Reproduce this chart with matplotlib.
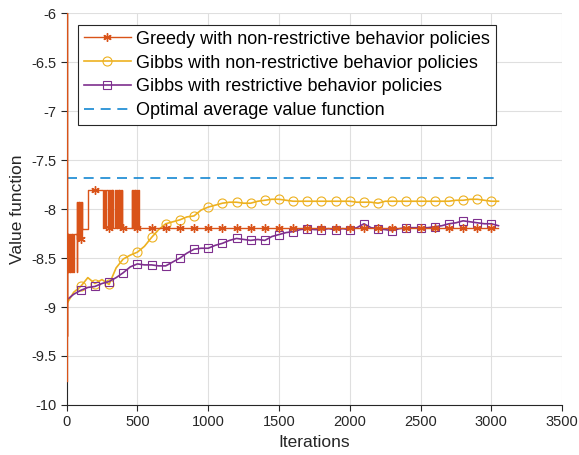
import numpy as np
import matplotlib
matplotlib.use('Agg')
import matplotlib.pyplot as plt
from matplotlib.lines import Line2D

plt.rcParams['font.family'] = ['Liberation Sans', 'DejaVu Sans']

# Gibbs curves, sampled every 50 iterations (last point = end of run)
it50 = list(range(0, 3001, 50)) + [3050]
gibbs_nonrest = [-8.97, -8.85, -8.79, -8.70, -8.76, -8.72, -8.77, -8.60, -8.51, -8.47,
                 -8.44, -8.38, -8.29, -8.21, -8.15, -8.13, -8.11, -8.08, -8.07, -8.01,
                 -7.98, -7.96, -7.94, -7.93, -7.93, -7.94, -7.94, -7.92, -7.91, -7.90,
                 -7.90, -7.91, -7.92, -7.92, -7.92, -7.92, -7.92, -7.92, -7.92, -7.92,
                 -7.92, -7.93, -7.93, -7.93, -7.94, -7.92, -7.92, -7.92, -7.92, -7.92,
                 -7.92, -7.92, -7.92, -7.92, -7.92, -7.91, -7.91, -7.90, -7.90, -7.91,
                 -7.92, -7.92]
gibbs_rest = [-8.93, -8.87, -8.83, -8.80, -8.79, -8.76, -8.74, -8.70, -8.65, -8.59,
              -8.56, -8.57, -8.57, -8.58, -8.58, -8.54, -8.50, -8.45, -8.41, -8.40,
              -8.40, -8.37, -8.35, -8.32, -8.30, -8.31, -8.32, -8.31, -8.32, -8.28,
              -8.26, -8.24, -8.23, -8.21, -8.20, -8.21, -8.21, -8.20, -8.21, -8.20,
              -8.21, -8.19, -8.15, -8.19, -8.20, -8.21, -8.22, -8.20, -8.19, -8.19,
              -8.19, -8.19, -8.18, -8.17, -8.15, -8.14, -8.12, -8.13, -8.14, -8.15,
              -8.15, -8.17]

# Greedy: piecewise-constant levels (start iteration, value)
greedy_steps = [(0, -9.76), (1, -5.5), (2, -9.30), (3, -8.64), (52, -8.25), (72, -8.64),
                (110, -8.20), (152, -7.81), (255, -8.19), (262, -7.81), (270, -8.19),
                (278, -7.81), (330, -8.19), (345, -7.81), (392, -8.19), (462, -7.81),
                (565, -8.19), (3050, -8.19)]
# intervals where the greedy policy keeps switching between two levels
greedy_chatter = [(5, 50, -8.25, -8.64), (75, 110, -7.93, -8.31),
                  (288, 330, -7.81, -8.19), (345, 392, -7.81, -8.19),
                  (462, 510, -7.81, -8.19)]
marks = list(range(100, 3001, 100))
greedy_marks = [-8.31, -7.81] + [-8.19] * 28

optimal = -7.68

# build greedy step series
gx, gy = [], []
for s, v in greedy_steps:
    gx.append(s)
    gy.append(v)
for a, b, hi, lo in greedy_chatter:
    for k, t in enumerate(range(a, b, 2)):
        gx.append(t)
        gy.append(hi if k % 2 == 0 else lo)
order = np.argsort(gx, kind='stable')
gx = np.array(gx)[order]
gy = np.array(gy)[order]

c_greedy = '#D95319'
c_gold = '#EDB120'
c_purple = '#7E2F8E'
c_blue = '#1487D2'

fig = plt.figure(figsize=(5.79, 4.55), dpi=100)
ax = fig.add_axes([0.115, 0.110, 0.856, 0.861])

ax.plot(gx, gy, color=c_greedy, lw=1.0, drawstyle='steps-post', zorder=3)
ax.plot(marks, greedy_marks, ls='none', marker=(6, 2, 0), ms=6, mew=1.0,
        color=c_greedy, zorder=3)
ax.plot(it50, gibbs_nonrest, color=c_gold, lw=1.2, marker='o', ms=6.5,
        mfc='none', mew=0.8, markevery=slice(2, 62, 2), zorder=2)
ax.plot(it50, gibbs_rest, color=c_purple, lw=1.2, marker='s', ms=5.8,
        mfc='none', mew=0.8, markevery=slice(2, 62, 2), zorder=2)
ax.plot([0, 3050], [optimal, optimal], color=c_blue, lw=1.2, ls=(0, (6, 4)))

ax.set_xlim(0, 3500)
ax.set_ylim(-10, -6)
ax.set_xticks(range(0, 3501, 500))
ax.set_yticks(np.arange(-10, -5.9, 0.5))
ax.set_yticklabels(['-10', '-9.5', '-9', '-8.5', '-8', '-7.5', '-7', '-6.5', '-6'])
ax.grid(True, color='#DFDFDF', lw=0.8)
ax.set_axisbelow(True)
for s in ['top', 'right']:
    ax.spines[s].set_visible(False)
for s in ['left', 'bottom']:
    ax.spines[s].set_color('#262626')
    ax.spines[s].set_linewidth(0.8)
ax.tick_params(labelsize=10.5, colors='#262626', length=4, width=0.8)
ax.set_xlabel('Iterations', fontsize=12.5, color='#262626')
ax.set_ylabel('Value function', fontsize=12.5, color='#262626')

handles = [
    Line2D([], [], color=c_greedy, lw=1.0, marker=(6, 2, 0), ms=6),
    Line2D([], [], color=c_gold, lw=1.2, marker='o', ms=6.5, mfc='none', mew=0.8),
    Line2D([], [], color=c_purple, lw=1.2, marker='s', ms=5.5, mfc='none', mew=0.8),
    Line2D([], [], color=c_blue, lw=1.2, ls=(0, (6, 4))),
]
labels = ['Greedy with non-restrictive behavior policies',
          'Gibbs with non-restrictive behavior policies',
          'Gibbs with restrictive behavior policies',
          'Optimal average value function']
leg = ax.legend(handles, labels, loc='upper left', bbox_to_anchor=(0.024, 0.969),
                fontsize=13, fancybox=False, edgecolor='#262626', framealpha=1,
                handlelength=2.6, handletextpad=0.3, borderpad=0.3, labelspacing=0.38,
                borderaxespad=0.0)
leg.get_frame().set_linewidth(0.8)

fig.savefig('out.png', dpi=100)
